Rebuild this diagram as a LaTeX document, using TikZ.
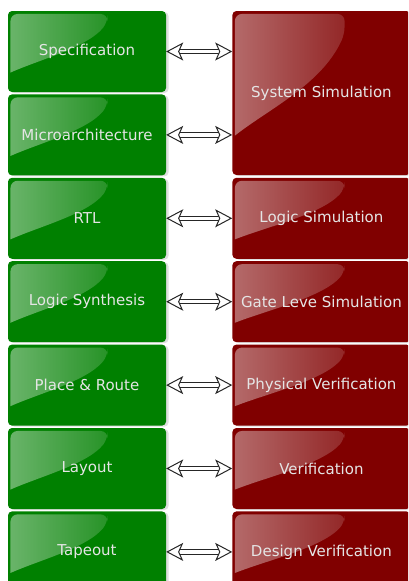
\documentclass[tikz,border=0pt]{standalone}
\usepackage{fontspec}
\setmainfont{DejaVu Sans}
\usetikzlibrary{arrows.meta,shadows,fadings,positioning,calc}
\definecolor{stagegreen}{RGB}{0,128,0}
\definecolor{stagered}{RGB}{128,0,0}

\begin{document}
\begin{tikzpicture}[node distance=2pt,
    box/.style={rounded corners=4pt, minimum width=158pt, minimum height=81pt,
      inner sep=0pt, text=white!90!black, font=\fontsize{15}{18}\selectfont,
      drop shadow={shadow xshift=2.5pt, shadow yshift=-1pt, opacity=.25},
      path picture={
        \path let \p1=(path picture bounding box.north west),
          \p2=(path picture bounding box.south east),
          \n1={\x2-\x1}, \n2={\y1-\y2} in
          [fill=white, fill opacity=.42, path fading=east, rounded corners=7pt]
          (\x1+2.5pt, \y1-0.5*\n2) -- (\x1+2.5pt, \y1-3pt)
          -- (\x1+0.63*\n1, \y1-3pt) -- (\x1+0.63*\n1, \y1-0.14*\n2)
          [sharp corners] .. controls (\x1+0.5*\n1, \y1-0.45*\n2)
          and (\x1+0.2*\n1, \y1-0.6*\n2) .. (\x1+2.5pt, \y1-0.76*\n2) -- cycle;}},
    greenbox/.style={box, fill=stagegreen},
    redbox/.style={box, fill=stagered, minimum width=178pt},
    link/.style={draw=black!85, line width=1pt, double=white, double distance=3.5pt,
      {Stealth[length=17pt, width=18pt, inset=4pt, fill=white]}-{Stealth[length=17pt, width=18pt, inset=4pt, fill=white]}}]

  \path[use as bounding box, clip] (0pt,0pt) rectangle (408pt,-581pt);

  \node[greenbox] (spec) at (87pt,-51.5pt) {Specification};
  \node[greenbox, below=of spec] (uarch) {Microarchitecture};
  \node[greenbox, below=of uarch] (rtl) {RTL};
  \node[greenbox, below=of rtl] (synth) {Logic Synthesis};
  \node[greenbox, below=of synth] (route) {Place \& Route};
  \node[greenbox, below=of route] (layout) {Layout};
  \node[greenbox, below=of layout] (tapeout) {Tapeout};

  \node[redbox, minimum height=164pt, anchor=north west] (syssim)
    at ([xshift=66pt]spec.north east) {System Simulation};
  \node[redbox, right=66pt of rtl] (logicsim) {Logic Simulation};
  \node[redbox, right=66pt of synth] (gatesim) {Gate Leve Simulation};
  \node[redbox, right=66pt of route] (physver) {Physical Verification};
  \node[redbox, right=66pt of layout] (ver) {Verification};
  \node[redbox, right=66pt of tapeout] (designver) {Design Verification};

  \path[link] (spec.east) -- (spec -| syssim.west);
  \path[link] (uarch.east) -- (uarch -| syssim.west);
  \path[link] (rtl) -- (logicsim);
  \path[link] (synth) -- (gatesim);
  \path[link] (route) -- (physver);
  \path[link] (layout) -- (ver);
  \path[link] (tapeout) -- (designver);
\end{tikzpicture}
\end{document}
